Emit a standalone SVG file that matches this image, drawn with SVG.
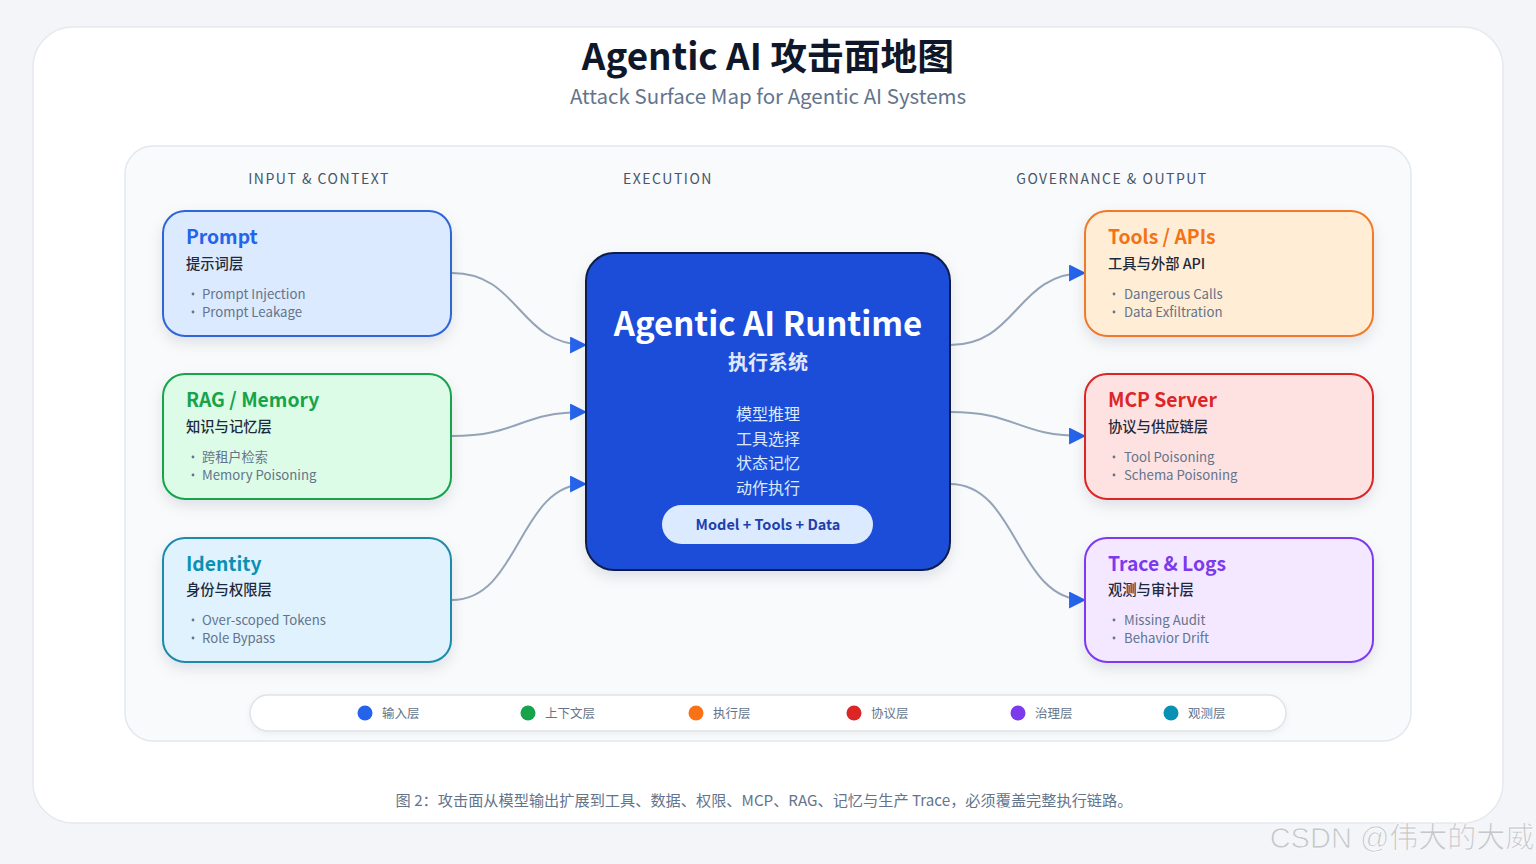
<svg xmlns="http://www.w3.org/2000/svg" width="1536" height="864" viewBox="0 0 1536 864">
<defs>
<style>
text{font-family:"Noto Sans CJK SC","Noto Sans",sans-serif}
.hdr{font-size:14px;fill:#475569;letter-spacing:1.5px;text-anchor:middle}
.nt{font-size:19.3px;font-weight:700}
.ns{font-size:14.3px;font-weight:500;fill:#1e293b}
.nb{font-size:13.2px;fill:#64748b}
.dot{fill:#64748b}
.conn{fill:none;stroke:#94a3b8;stroke-width:2}
.leg{font-size:12.5px;fill:#64748b}
</style>
<filter id="sh" x="-20%" y="-20%" width="140%" height="150%">
<feDropShadow dx="0" dy="6" stdDeviation="7" flood-color="#0f172a" flood-opacity="0.10"/>
</filter>
<filter id="sh2" x="-10%" y="-10%" width="120%" height="130%">
<feDropShadow dx="0" dy="2" stdDeviation="3" flood-color="#0f172a" flood-opacity="0.05"/>
</filter>
<marker id="arr" viewBox="0 0 16 16" refX="15" refY="8" markerWidth="17" markerHeight="17" markerUnits="userSpaceOnUse" orient="auto">
<path d="M0,0 L16,8 L0,16 Z" fill="#2563eb"/>
</marker>
</defs>
<rect width="1536" height="864" fill="#f3f5f8"/>
<rect x="33" y="27" width="1470" height="796" rx="40" fill="#ffffff" stroke="#e5e9ef" stroke-width="1.5"/>
<text x="768" y="70" text-anchor="middle" font-size="36.8" font-weight="700" fill="#0f172a">Agentic AI 攻击面地图</text>
<text x="768" y="104" text-anchor="middle" font-size="20.5" fill="#64748b">Attack Surface Map for Agentic AI Systems</text>
<rect x="125" y="146" width="1286" height="595" rx="28" fill="#f8fafc" stroke="#e2e8f0" stroke-width="1.5"/>
<text class="hdr" x="319" y="184">INPUT &amp; CONTEXT</text>
<text class="hdr" x="668" y="184">EXECUTION</text>
<text class="hdr" x="1112" y="184">GOVERNANCE &amp; OUTPUT</text>
<g id="connectors">
<path class="conn" d="M452,273 C520,273 518,345 586,345" marker-end="url(#arr)"/>
<path class="conn" d="M452,436 C520,436 518,412 586,412" marker-end="url(#arr)"/>
<path class="conn" d="M452,600 C520,600 518,484 586,484" marker-end="url(#arr)"/>
<path class="conn" d="M950,345 C1018,345 1016,273 1085,273" marker-end="url(#arr)"/>
<path class="conn" d="M950,412 C1018,412 1016,436 1085,436" marker-end="url(#arr)"/>
<path class="conn" d="M950,484 C1018,484 1016,600 1085,600" marker-end="url(#arr)"/>
</g>
<g id="prompt">
<rect x="163" y="211" width="288" height="125" rx="22" fill="#dbeafe" stroke="#2f66d6" stroke-width="2" filter="url(#sh)"/>
<text class="nt" x="186" y="244" fill="#2563eb">Prompt</text>
<text class="ns" x="186" y="269">提示词层</text>
<circle class="dot" cx="193" cy="294" r="1.4"/><text class="nb" x="202" y="299">Prompt Injection</text>
<circle class="dot" cx="193" cy="312" r="1.4"/><text class="nb" x="202" y="317">Prompt Leakage</text>
</g>
<g id="rag">
<rect x="163" y="374" width="288" height="125" rx="22" fill="#dcfce7" stroke="#16a34a" stroke-width="2" filter="url(#sh)"/>
<text class="nt" x="186" y="407" fill="#16a34a">RAG / Memory</text>
<text class="ns" x="186" y="432">知识与记忆层</text>
<circle class="dot" cx="193" cy="457" r="1.4"/><text class="nb" x="202" y="462">跨租户检索</text>
<circle class="dot" cx="193" cy="475" r="1.4"/><text class="nb" x="202" y="480">Memory Poisoning</text>
</g>
<g id="identity">
<rect x="163" y="538" width="288" height="124" rx="22" fill="#e0f2fe" stroke="#1a8aa8" stroke-width="2" filter="url(#sh)"/>
<text class="nt" x="186" y="571" fill="#0891b2">Identity</text>
<text class="ns" x="186" y="595">身份与权限层</text>
<circle class="dot" cx="193" cy="620" r="1.4"/><text class="nb" x="202" y="625">Over-scoped Tokens</text>
<circle class="dot" cx="193" cy="638" r="1.4"/><text class="nb" x="202" y="643">Role Bypass</text>
</g>
<g id="tools">
<rect x="1085" y="211" width="288" height="125" rx="22" fill="#ffedd5" stroke="#f07a2a" stroke-width="2" filter="url(#sh)"/>
<text class="nt" x="1108" y="244" fill="#f47216">Tools / APIs</text>
<text class="ns" x="1108" y="269">工具与外部 API</text>
<circle class="dot" cx="1114" cy="294" r="1.4"/><text class="nb" x="1124" y="299">Dangerous Calls</text>
<circle class="dot" cx="1114" cy="312" r="1.4"/><text class="nb" x="1124" y="317">Data Exfiltration</text>
</g>
<g id="mcp">
<rect x="1085" y="374" width="288" height="125" rx="22" fill="#fee2e2" stroke="#dc2626" stroke-width="2" filter="url(#sh)"/>
<text class="nt" x="1108" y="407" fill="#dc2626">MCP Server</text>
<text class="ns" x="1108" y="432">协议与供应链层</text>
<circle class="dot" cx="1114" cy="457" r="1.4"/><text class="nb" x="1124" y="462">Tool Poisoning</text>
<circle class="dot" cx="1114" cy="475" r="1.4"/><text class="nb" x="1124" y="480">Schema Poisoning</text>
</g>
<g id="trace">
<rect x="1085" y="538" width="288" height="124" rx="22" fill="#f3e8ff" stroke="#7c3aed" stroke-width="2" filter="url(#sh)"/>
<text class="nt" x="1108" y="571" fill="#7c3aed">Trace &amp; Logs</text>
<text class="ns" x="1108" y="595">观测与审计层</text>
<circle class="dot" cx="1114" cy="620" r="1.4"/><text class="nb" x="1124" y="625">Missing Audit</text>
<circle class="dot" cx="1114" cy="638" r="1.4"/><text class="nb" x="1124" y="643">Behavior Drift</text>
</g>
<g id="runtime">
<rect x="586" y="253" width="364" height="317" rx="28" fill="#1d4ed8" stroke="#0f1e4a" stroke-width="2" filter="url(#sh)"/>
<text x="768" y="336" text-anchor="middle" font-size="33" font-weight="700" fill="#ffffff">Agentic AI Runtime</text>
<text x="768" y="370" text-anchor="middle" font-size="20" font-weight="700" fill="#e0e7ff">执行系统</text>
<text x="768" y="420" text-anchor="middle" font-size="16" fill="#dbeafe">模型推理</text>
<text x="768" y="445" text-anchor="middle" font-size="16" fill="#dbeafe">工具选择</text>
<text x="768" y="469" text-anchor="middle" font-size="16" fill="#dbeafe">状态记忆</text>
<text x="768" y="494" text-anchor="middle" font-size="16" fill="#dbeafe">动作执行</text>
<rect x="662" y="505" width="211" height="39" rx="19.5" fill="#dbeafe"/>
<text x="768" y="530" text-anchor="middle" font-size="14.5" font-weight="700" fill="#1e40af">Model + Tools + Data</text>
</g>
<g id="legend">
<rect x="250" y="695" width="1036" height="36" rx="18" fill="#ffffff" stroke="#dde3ea" stroke-width="1.5" filter="url(#sh2)"/>
<circle cx="365" cy="713" r="7.5" fill="#2563eb"/><text class="leg" x="382" y="718">输入层</text>
<circle cx="528" cy="713" r="7.5" fill="#16a34a"/><text class="leg" x="545" y="718">上下文层</text>
<circle cx="696" cy="713" r="7.5" fill="#f97316"/><text class="leg" x="713" y="718">执行层</text>
<circle cx="854" cy="713" r="7.5" fill="#dc2626"/><text class="leg" x="871" y="718">协议层</text>
<circle cx="1018" cy="713" r="7.5" fill="#7c3aed"/><text class="leg" x="1035" y="718">治理层</text>
<circle cx="1171" cy="713" r="7.5" fill="#0891b2"/><text class="leg" x="1188" y="718">观测层</text>
</g>
<text x="764" y="806" text-anchor="middle" font-size="15.2" fill="#64748b">图 2：攻击面从模型输出扩展到工具、数据、权限、MCP、RAG、记忆与生产 Trace，必须覆盖完整执行链路。</text>
<text x="1402" y="848" text-anchor="middle" font-size="29" fill="#c4c7cc" stroke="#ffffff" stroke-width="0.6" style="font-family:'Liberation Sans','Noto Sans CJK SC',sans-serif">CSDN @伟大的大威</text>
</svg>
